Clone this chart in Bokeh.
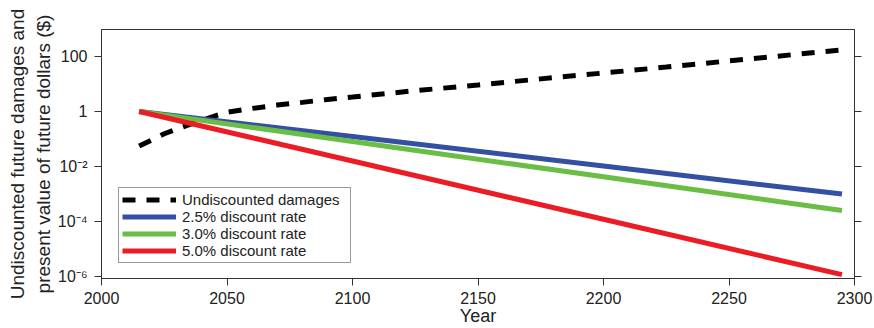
from bokeh.plotting import figure
from bokeh.models import (Range1d, FixedTicker, CustomJSTickFormatter, LogAxis,
                          Legend, LegendItem)
from bokeh.embed import file_html
from bokeh.resources import INLINE

# ---- data ----
damage_years = [2015, 2020, 2025, 2030, 2035, 2040, 2045, 2050, 2060, 2070, 2080,
                2090, 2100, 2125, 2150, 2175, 2200, 2225, 2250, 2275, 2295]
damage_values = [0.055, 0.092, 0.155, 0.23, 0.33, 0.47, 0.68, 0.93, 1.29, 1.71, 2.14,
                 2.73, 3.35, 5.7, 9.2, 15.3, 25.0, 41.0, 69.0, 115.0, 172.0]

rate_years = [2015, 2100, 2200, 2295]
pv_25 = [1.0, 0.123, 0.0104, 0.00099]
pv_30 = [1.0, 0.081, 0.0042, 0.00025]
pv_50 = [1.0, 0.0158, 0.00012, 1.17e-6]

series_labels = ["Undiscounted damages", "2.5% discount rate",
                 "3.0% discount rate", "5.0% discount rate"]
x_ticks = [2000, 2050, 2100, 2150, 2200, 2250, 2300]
y_ticks = [1e-6, 1e-4, 1e-2, 1, 100]
x_title = "Year"
y_title = "Undiscounted future damages and\npresent value of future dollars ($)"

FONT = "Liberation Sans"
AX = "#333333"
TXT = "#222222"

p = figure(width=874, height=328, output_backend="svg", toolbar_location=None,
           y_axis_type="log",
           x_range=Range1d(2000, 2300), y_range=Range1d(10 ** -6.073, 10 ** 2.98),
           min_border_left=101, min_border_right=20, min_border_top=29,
           min_border_bottom=50)
p.background_fill_color = "white"
p.border_fill_color = "white"
p.grid.visible = False
p.outline_line_color = AX
p.outline_line_width = 1

r_dmg = p.line(damage_years, damage_values, line_color="black", line_width=5,
               line_dash="13 11")
r25 = p.line(rate_years, pv_25, line_color="#3350A2", line_width=5)
r30 = p.line(rate_years, pv_30, line_color="#6ABD45", line_width=5)
r50 = p.line(rate_years, pv_50, line_color="#EC1C24", line_width=5)

sup_code = """
const e = Math.round(Math.log10(tick));
if (e >= 0) return Math.round(tick).toString();
const sup = {"-": "\\u207b", "0": "\\u2070", "1": "\\u00b9", "2": "\\u00b2", "3": "\\u00b3",
             "4": "\\u2074", "5": "\\u2075", "6": "\\u2076", "7": "\\u2077", "8": "\\u2078", "9": "\\u2079"};
return "10" + String(e).split("").map(c => sup[c]).join("");
"""

xa = p.xaxis[0]
xa.ticker = FixedTicker(ticks=x_ticks)
xa.axis_label = x_title
ya = p.yaxis[0]
ya.ticker = FixedTicker(ticks=y_ticks)
ya.formatter = CustomJSTickFormatter(code=sup_code)
ya.axis_label = y_title

ra = LogAxis(ticker=FixedTicker(ticks=y_ticks),
             formatter=CustomJSTickFormatter(code="return '';"))
p.add_layout(ra, "right")

for ax in [xa, ya, ra]:
    ax.axis_line_color = AX
    ax.axis_line_width = 1
    ax.major_tick_line_color = AX
    ax.major_tick_line_width = 1
    ax.major_tick_in = 0
    ax.major_tick_out = 7
    ax.minor_tick_line_color = None
    ax.major_label_text_font = FONT
    ax.major_label_text_font_size = "16px"
    ax.major_label_text_color = TXT
    ax.axis_label_text_font = FONT
    ax.axis_label_text_font_style = "normal"
    ax.axis_label_text_color = TXT

xa.major_label_standoff = 6
xa.axis_label_standoff = -1
xa.axis_label_text_font_size = "18px"
xa.axis_label_text_line_height = 1.0
ya.major_label_standoff = 7
ya.axis_label_standoff = 1
ya.axis_label_text_font_size = "19px"
ya.axis_label_text_line_height = 1.25
ra.major_label_standoff = 0
ra.major_label_text_font_size = "1px"

legend = Legend(items=[LegendItem(label=series_labels[0], renderers=[r_dmg]),
                       LegendItem(label=series_labels[1], renderers=[r25]),
                       LegendItem(label=series_labels[2], renderers=[r30]),
                       LegendItem(label=series_labels[3], renderers=[r50])],
                location=(17, 15))
legend.label_text_font = FONT
legend.label_text_font_size = "15px"
legend.label_text_line_height = 1.1
legend.label_text_color = TXT
legend.glyph_width = 54
legend.glyph_height = 17
legend.label_height = 17
legend.label_width = 165
legend.label_standoff = 6
legend.spacing = 0
legend.padding = 3
legend.margin = 0
legend.border_line_color = AX
legend.border_line_width = 1
legend.background_fill_alpha = 1
p.add_layout(legend, "center")

open("out.html", "w").write(file_html(p, INLINE))
